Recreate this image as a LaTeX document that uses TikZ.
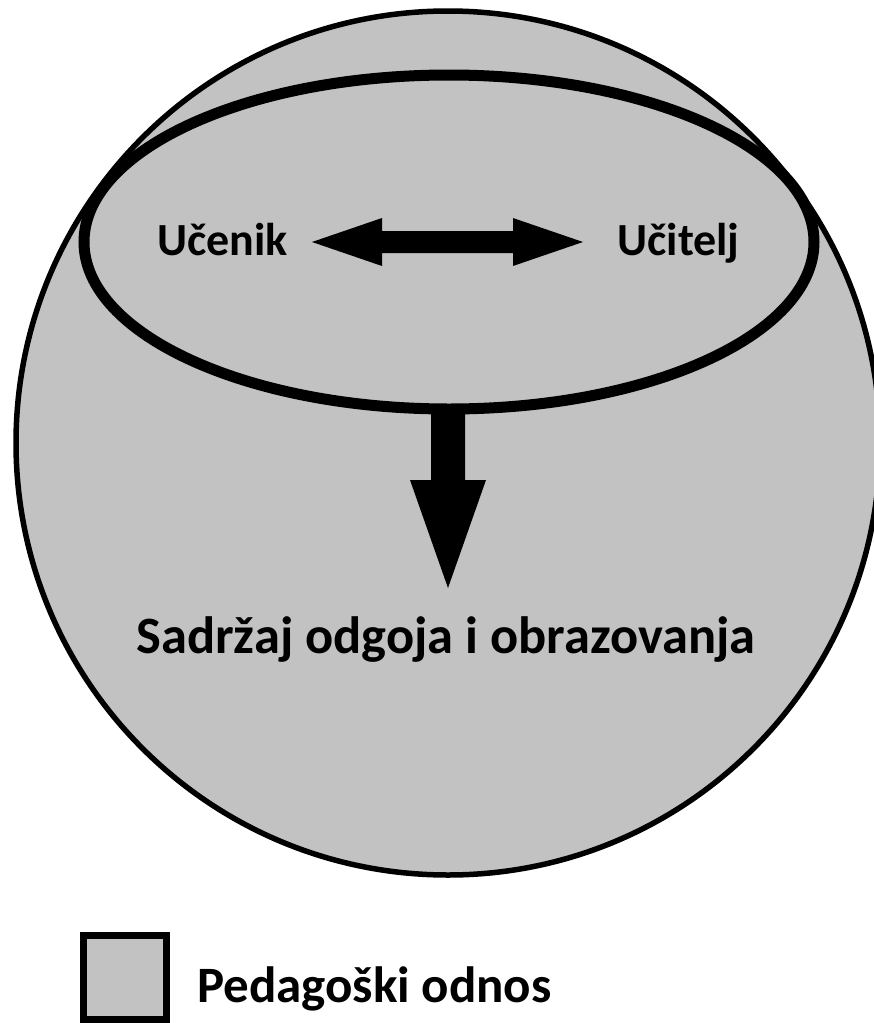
\documentclass[tikz,border=0pt]{standalone}
\usepackage{fontspec}
\setmainfont{Carlito}
\definecolor{fillgray}{RGB}{194,194,194}
\tikzset{
  label text/.style={font=\bfseries, inner sep=0pt, anchor=base},
  thin outline/.style={draw=black, line width=5.5pt, fill=fillgray},
  thick outline/.style={draw=black, line width=11pt, fill=fillgray},
  arrow body/.style={fill=black, draw=none}
}
\begin{document}
\begin{tikzpicture}[x=1pt,y=-1pt]
  \useasboundingbox (0,0) rectangle (874,1023);
  \fill[white] (0,0) rectangle (874,1023);

  % outer sphere: the pedagogical relation
  \begin{scope}
    \clip (0,0) rectangle (874,1023);
    \draw[thin outline] (448,443) circle[radius=432];
  \end{scope}

  % inner ellipse: student and teacher
  \draw[thick outline] (449,242) ellipse[x radius=365, y radius=167];

  % two-way arrow between student and teacher
  \path[arrow body] (312,242) -- (382,218) -- (382,231) -- (513,231)
    -- (513,218) -- (583,242) -- (513,266) -- (513,253) -- (382,253)
    -- (382,266) -- cycle;

  % arrow down towards the content
  \path[arrow body] (431,408) -- (431,480) -- (410,480) -- (448,588)
    -- (486,480) -- (465,480) -- (465,408) -- cycle;

  \node[label text, font=\fontsize{46}{50}\selectfont\bfseries] (ucenik) at (222.5,255) {Učenik};
  \node[label text, font=\fontsize{46}{50}\selectfont\bfseries] (ucitelj) at (678.5,255) {Učitelj};
  \node[label text, font=\fontsize{52.5}{58}\selectfont\bfseries] (sadrzaj) at (446,653) {Sadržaj odgoja i obrazovanja};

  % legend
  \draw[draw=black, line width=7pt, fill=fillgray] (83.5,935.5) rectangle (166.5,1019.5);
  \node[label text, anchor=base west, font=\fontsize{51}{56}\selectfont\bfseries] (legend) at (197,1002) {Pedagoški odnos};
\end{tikzpicture}
\end{document}
